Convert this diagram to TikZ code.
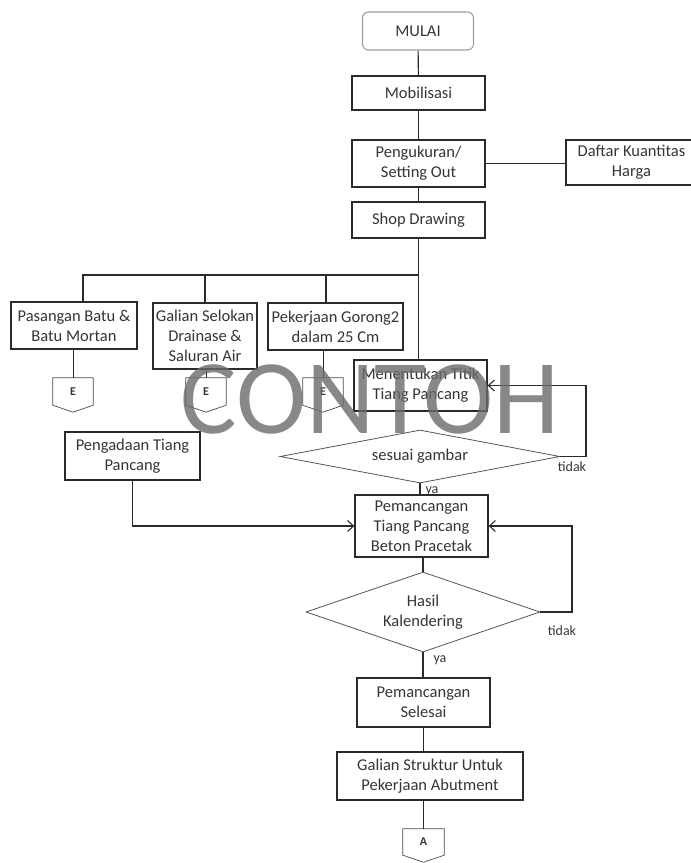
\documentclass[tikz,border=0pt]{standalone}
\usepackage{fontspec}
\setmainfont{Carlito}
\usetikzlibrary{shapes.geometric,arrows.meta}
\definecolor{ink}{HTML}{2A2A2A}
\definecolor{txt}{HTML}{353535}
\definecolor{mark}{HTML}{6A6A6A}
\tikzset{
  base/.style={font=\fontsize{16.5}{20}\selectfont, text=txt, align=center, inner sep=0pt},
  proc/.style={base, draw=ink, line width=1.3pt, rectangle},
  start/.style={base, draw=gray!75, line width=1.1pt, rounded corners=6pt, rectangle},
  decision/.style={base, draw=ink!80, line width=0.8pt, diamond, inner sep=0pt},
  offpage/.style={font=\fontsize{12}{14}\selectfont\bfseries, text=txt, inner sep=0pt,
                  minimum width=40pt},
  link/.style={draw=ink, line width=1.1pt},
  arr/.style={link, -{Straight Barb[length=6pt,width=11pt,line width=1.1pt]}},
  lbl/.style={font=\fontsize{14}{16}\selectfont, text=txt, inner sep=0pt},
}
\begin{document}
\begin{tikzpicture}[x=1pt, y=-1pt]
\useasboundingbox (0,0) rectangle (691,863);

% main column
\node[start, minimum width=111pt, minimum height=38pt] (mulai) at (418,31) {MULAI};
\node[proc, minimum width=133pt, minimum height=34pt] (mob) at (418.5,93) {Mobilisasi};
\node[proc, minimum width=133pt, minimum height=47pt] (peng) at (418.5,163.5) {Pengukuran/\\Setting Out};
\node[proc, minimum width=131pt, minimum height=45pt] (daftar) at (631.5,162.5) {Daftar Kuantitas\\Harga};
\node[proc, minimum width=133pt, minimum height=36pt] (shop) at (418.5,220) {Shop Drawing};

% side works
\node[proc, minimum width=126pt, minimum height=47pt] (pas) at (74,325.5) {Pasangan Batu \&\\Batu Mortan};
\node[proc, minimum width=104pt, minimum height=66pt] (gal) at (205,336) {Galian Selokan\\Drainase \&\\Saluran Air};
\node[proc, minimum width=135pt, minimum height=47pt] (gor) at (335.5,326.5) {Pekerjaan Gorong2\\dalam 25 Cm};

% off-page connectors
\node[offpage, minimum height=27pt] (e1) at (73,391.5) {E};
\node[offpage, minimum height=27pt] (e2) at (206,391.5) {E};
\node[offpage, minimum height=27pt] (e3) at (323,391.5) {E};
\node[offpage, minimum width=41pt, minimum height=26pt] (a) at (423.5,842) {A};
\foreach \n/\t in {e1/7pt,e2/7pt,e3/7pt,a/7pt}
  \draw[draw=ink!85, line width=0.7pt] (\n.north west) -- (\n.north east) -- (\n.south east)
     -- ([yshift=-\t]\n.south) -- (\n.south west) -- cycle;

% piling steps
\node[proc, minimum width=133pt, minimum height=51pt] (ment) at (420.5,385.5) {Menentukan Titik\\Tiang Pancang};
\node[decision, minimum width=280pt, minimum height=53pt, aspect=5.3] (ses) at (420,456.5) {sesuai gambar};
\node[proc, minimum width=135pt, minimum height=48pt] (adaan) at (132.5,456) {Pengadaan Tiang\\Pancang};
\node[proc, minimum width=133pt, minimum height=62pt] (pem) at (421.5,526) {Pemancangan\\Tiang Pancang\\Beton Pracetak};
\node[decision, minimum width=234pt, minimum height=80pt, aspect=2.9] (hasil) at (423,612) {Hasil\\Kalendering};
\node[proc, minimum width=133pt, minimum height=49pt] (sel) at (423.5,702.5) {Pemancangan\\Selesai};
\node[proc, minimum width=186pt, minimum height=48pt] (gstr) at (430,776) {Galian Struktur Untuk\\Pekerjaan Abutment};

% helper points for the branch bus and the loops
\coordinate (bus) at (418.5,275);
\coordinate (b1) at (83,275);
\coordinate (b2) at (205,275);
\coordinate (b3) at (326,275);
\coordinate (r1) at (586,0);
\coordinate (r2) at (572,0);

% connectors
\draw[link] (mulai) -- (mob);
\draw[link] (mob) -- (peng);
\draw[link] (peng) -- (shop);
\draw[link] (peng.east) -- (daftar.west |- peng.east);
\draw[link] (shop.south) -- (shop.south |- ment.north);
\draw[link] (bus) -- (b1) -- (b1 |- pas.north);
\draw[link] (b2) -- (b2 |- gal.north);
\draw[link] (b3) -- (b3 |- gor.north);
\draw[link, line width=0.7pt] (e1.north |- pas.south) -- (e1.north);
\draw[link, line width=0.7pt] (e2.north |- gal.south) -- (e2.north);
\draw[link, line width=0.7pt] (e3.north |- gor.south) -- (e3.north);

\draw[arr] (ses.east) -| (r1 |- ment.east) -- (ment.east);
\draw[link] (ses.south) -- (ses.south |- pem.north);
\draw[arr] (adaan.south) |- (pem.west);
\draw[link] (pem.south -| hasil.north) -- (hasil.north);
\draw[arr] (hasil.east) -| (r2 |- pem.east) -- (pem.east);
\draw[link] (hasil.south) -- (hasil.south |- sel.north);
\draw[link] (sel.south) -- (sel.south |- gstr.north);
\draw[link] (a.north |- gstr.south) -- (a.north);

% branch labels
\node[lbl] (t1) at (572,467) {tidak};
\node[lbl] (y1) at (432,491) {ya};
\node[lbl] (t2) at (562,631) {tidak};
\node[lbl] (y2) at (440,660) {ya};

% watermark
\node[font=\fontsize{106}{106}\selectfont, text=mark, text opacity=0.8, inner sep=0pt, anchor=base]
  (wm) at (370,433) {CONTOH};
\end{tikzpicture}
\end{document}
